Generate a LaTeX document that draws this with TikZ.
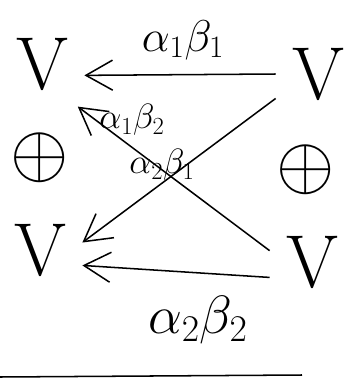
\RequirePackage{fix-cm}
\documentclass[tikz,border=0pt]{standalone}
\usepackage{tikz}
\usetikzlibrary{arrows.meta}

\begin{document}
\begin{tikzpicture}[x=0.03cm,y=-0.03cm,>={Straight Barb[length=8mm,width=9mm]},
sp/.style={font=\fontsize{64}{64}\selectfont,inner sep=0pt,outer sep=14pt},
lbl/.style={font=\fontsize{30}{30}\selectfont,inner sep=1pt},
arr/.style={->,line width=1.3pt}]
\useasboundingbox (0,0) rectangle (350,383);
% left column
\node[sp] (v1) at (42,64) {V};
\node[sp] (s1) at (40,158) {$\oplus$};
\node[sp] (v2) at (40,250) {V};
% right column
\node[sp] (w1) at (318,74) {V};
\node[sp] (s2) at (306,170) {$\oplus$};
\node[sp] (w2) at (312,262) {V};
% maps
\draw[arr] (w1.west) -- (v1.-15);
\node[lbl,font=\fontsize{38}{38}\selectfont] (a11) at (183,40) {$\alpha_1\beta_1$};
\draw[arr] (w2.165) -- (v1.-50);
\node[lbl] (a12) at (132,120) {$\alpha_1\beta_2$};
\draw[arr] (w1.-150) -- (v2.10);
\node[lbl] (a21) at (162,165) {$\alpha_2\beta_1$};
\draw[arr] (w2.-160) -- (v2.-20);
\node[lbl,font=\fontsize{46}{46}\selectfont] (a22) at (198,320) {$\alpha_2\beta_2$};
\draw[line width=1.3pt] (0,377) -- (302,375);
\end{tikzpicture}
\end{document}
